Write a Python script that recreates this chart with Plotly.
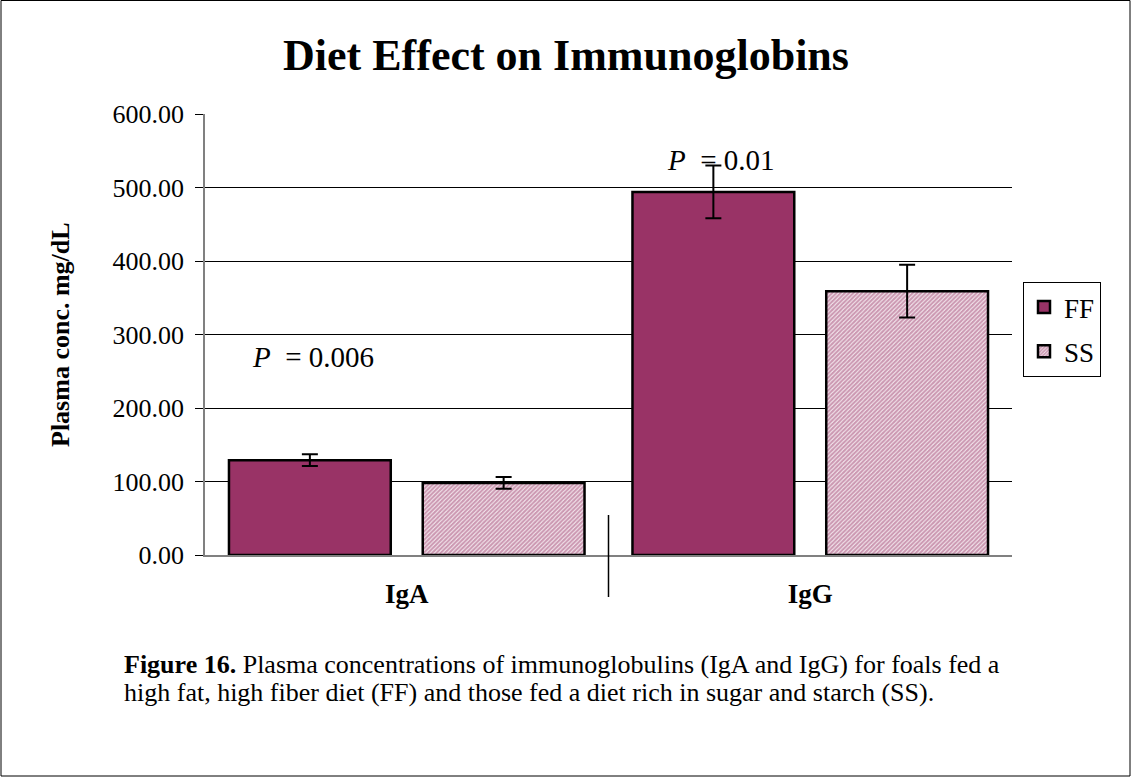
import plotly.graph_objects as go

categories = ["IgA", "IgG"]
ff_values = [129, 494]
ff_errors = [8, 36]
ss_values = [98, 359]
ss_errors = [8, 36]
y_ticks = [0, 100, 200, 300, 400, 500, 600]

FONT = "Liberation Serif"
W, H = 1132, 778
L, R, T, B = 205, 1012, 114, 555  # plot area in pixels

def px(xp):
    return (xp - L) / (R - L)

def py(yp):
    return (B - yp) / (B - T)

fig = go.Figure()
fig.add_trace(go.Bar(
    name="FF", x=categories, y=ff_values,
    marker=dict(color="#993366", line=dict(color="black", width=2.5)),
    error_y=dict(type="data", array=ff_errors, color="black", thickness=2, width=8),
    legendgroup="ff",
))
fig.add_trace(go.Bar(
    name="SS", x=categories, y=ss_values,
    marker=dict(color="white", line=dict(color="black", width=2.5),
                pattern=dict(shape="/", fgcolor="#993366", bgcolor="white", size=3, solidity=0.75)),
    error_y=dict(type="data", array=ss_errors, color="black", thickness=2, width=8),
    legendgroup="ss",
))

fig.update_layout(
    width=W, height=H,
    margin=dict(l=L, r=W - R, t=T, b=H - B, pad=0),
    paper_bgcolor="white", plot_bgcolor="white",
    barmode="group", bargap=0.0396, bargroupgap=0.165,
    font=dict(family=FONT, color="black", size=22),
    title=dict(text="<b>Diet Effect on Immunoglobins</b>", x=0.5, xanchor="center",
               y=1 - 55 / H, yanchor="middle", yref="container",
               font=dict(family=FONT, size=44, color="black")),
    showlegend=True,
    legend=dict(x=px(1023), y=py(282), xanchor="left", yanchor="top",
                bordercolor="black", borderwidth=1, bgcolor="white",
                font=dict(family=FONT, size=27), tracegroupgap=6),
    xaxis=dict(type="category", showgrid=False, showline=True, linecolor="#808080", linewidth=1.5,
               ticks="inside", tickson="boundaries", ticklen=8, tickcolor="black",
               tickfont=dict(family=FONT, size=27), ticklabelstandoff=14,
               tickprefix="<b>", ticksuffix="</b>"),
    yaxis=dict(range=[0, 600], tickvals=y_ticks, tickformat=".2f",
               showgrid=True, gridcolor="black", gridwidth=1,
               showline=True, linecolor="#808080", linewidth=1.5,
               ticks="outside", ticklen=8, tickcolor="black",
               tickfont=dict(family=FONT, size=26), ticklabelstandoff=6,
               zeroline=False),
)

fig.add_annotation(text="<b>Plasma conc. mg/dL</b>", textangle=-90,
                   xref="paper", yref="paper", x=px(60), y=py(335),
                   xanchor="center", yanchor="middle", showarrow=False,
                   font=dict(family=FONT, size=26))
fig.add_annotation(text="<i>P</i>  = 0.006", xref="paper", yref="paper",
                   x=px(313), y=py(357), xanchor="center", yanchor="middle", showarrow=False,
                   font=dict(family=FONT, size=29))
fig.add_annotation(text="<i>P</i>  = 0.01", xref="paper", yref="paper",
                   x=px(721), y=py(160), xanchor="center", yanchor="middle", showarrow=False,
                   font=dict(family=FONT, size=29))
caption_lines = [
    ("<b>Figure 16.</b> Plasma concentrations of immunoglobulins (IgA and IgG) for foals fed a", 664),
    ("high fat, high fiber diet (FF) and those fed a diet rich in sugar and starch (SS).", 692),
]
for text, ypix in caption_lines:
    fig.add_annotation(text=text, xref="paper", yref="paper", x=px(122), y=py(ypix),
                       xanchor="left", yanchor="middle", align="left", showarrow=False,
                       font=dict(family=FONT, size=26))

fig.add_shape(type="line", xref="paper", yref="paper", x0=0.5, x1=0.5,
              y0=py(597), y1=py(515), line=dict(color="black", width=1.5))
fig.add_shape(type="rect", xref="paper", yref="paper",
              x0=px(1), x1=px(1130), y0=py(776), y1=py(0.5),
              line=dict(color="black", width=1))

fig.write_html("out.html", config={"displayModeBar": False},
               post_script="document.body.style.margin='0';document.body.style.overflow='hidden';")
